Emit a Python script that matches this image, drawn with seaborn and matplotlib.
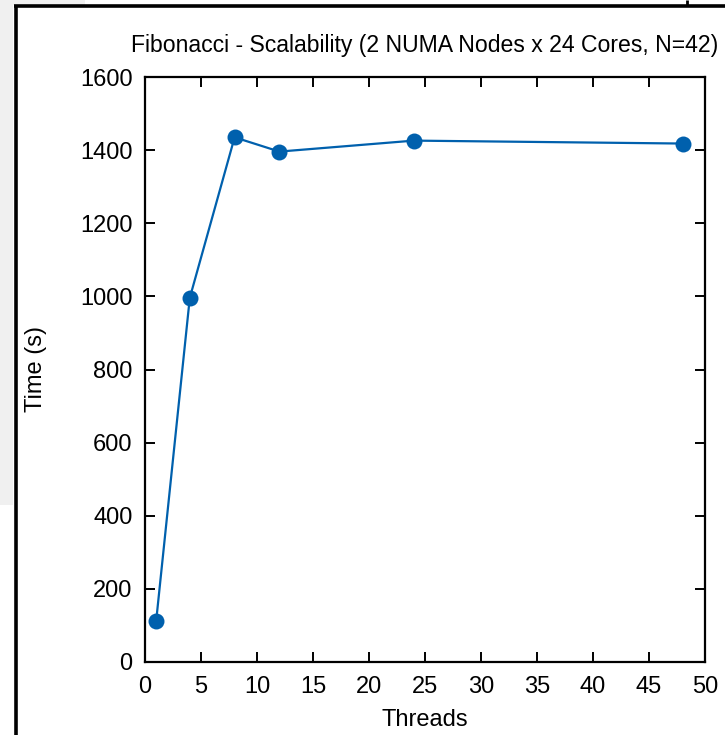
import matplotlib
matplotlib.use("Agg")
import matplotlib.pyplot as plt
import seaborn as sns
import pandas as pd
from matplotlib.patches import Rectangle
from matplotlib.lines import Line2D

# data
threads = [1, 4, 8, 12, 24, 48]
times = [113, 996, 1435, 1396, 1426, 1418]
x_ticks = [0, 5, 10, 15, 20, 25, 30, 35, 40, 45, 50]
y_ticks = [0, 200, 400, 600, 800, 1000, 1200, 1400, 1600]

title = "Fibonacci - Scalability (2 NUMA Nodes x 24 Cores, N=42)"

df = pd.DataFrame({"Threads": threads, "Time (s)": times})

sns.set_theme(style="ticks")
plt.rcParams["font.family"] = ["Liberation Sans", "DejaVu Sans"]
plt.rcParams["text.color"] = "black"
plt.rcParams["axes.labelcolor"] = "black"

W, H = 725, 735
fig = plt.figure(figsize=(W / 100, H / 100), dpi=100)
fig.patch.set_facecolor("white")

# screenshot framing around the figure
gray = "#f0f0f0"
fig.add_artist(Rectangle((0, 1 - 505 / H), 13 / W, 505 / H, transform=fig.transFigure,
                         facecolor=gray, edgecolor="none", zorder=0))
fig.add_artist(Rectangle((0, 1 - 5 / H), 85 / W, 5 / H, transform=fig.transFigure,
                         facecolor=gray, edgecolor="none", zorder=0))
fig.add_artist(Line2D([14 / W, 1], [1 - 6 / H, 1 - 6 / H], transform=fig.transFigure,
                      color="black", lw=2.6, solid_capstyle="butt"))
fig.add_artist(Line2D([15.5 / W, 15.5 / W], [0, 1 - 5 / H], transform=fig.transFigure,
                      color="black", lw=2.6, solid_capstyle="butt"))
fig.add_artist(Line2D([687 / W, 687 / W], [1 - 6 / H, 1], transform=fig.transFigure,
                      color="black", lw=2.0, solid_capstyle="butt"))

ax = fig.add_axes([145 / W, 1 - 662 / H, 560 / W, 585 / H])
ax.set_facecolor("white")

sns.lineplot(data=df, x="Threads", y="Time (s)", ax=ax, color="#0060ad",
             linewidth=1.6, marker="o", markersize=11.5, markeredgewidth=0)

ax.set_xlim(0, 50)
ax.set_ylim(0, 1600)
ax.set_xticks(x_ticks)
ax.set_yticks(y_ticks)
ax.tick_params(direction="in", length=7, width=1.4, colors="black", labelsize=17,
               top=True, right=True, labeltop=False, labelright=False)
ax.tick_params(axis="y", pad=9)
ax.tick_params(axis="x", pad=10)
for sp in ax.spines.values():
    sp.set_visible(True)
    sp.set_linewidth(1.6)
    sp.set_color("black")

ax.set_title(title, fontsize=16.6, pad=18, color="black")
ax.set_xlabel("Threads", fontsize=17)
ax.set_ylabel("Time (s)", fontsize=17)
ax.xaxis.set_label_coords(0.5, -0.08)
ax.yaxis.set_label_coords(-0.175, 0.5)

fig.savefig("out.png", dpi=100)
